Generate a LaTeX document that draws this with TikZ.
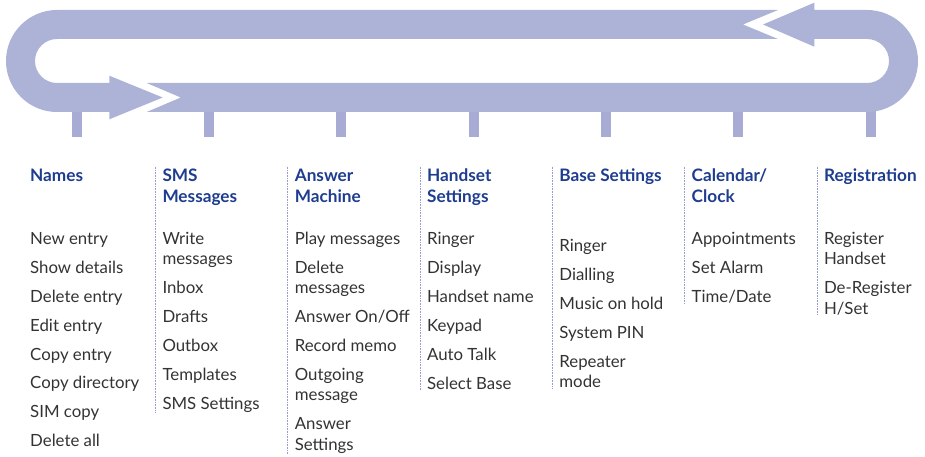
\documentclass[tikz,border=0pt]{standalone}
\usepackage{fontspec}
\setmainfont{Lato}
\usetikzlibrary{positioning}
\definecolor{band}{RGB}{172,179,215}
\definecolor{tickcol}{RGB}{168,172,212}
\definecolor{headblue}{RGB}{30,61,142}
\definecolor{itemgray}{RGB}{51,51,51}
\definecolor{sepcol}{RGB}{150,156,206}

\begin{document}
\begin{tikzpicture}[x=1pt,y=1pt,align=left]
\tikzstyle{tickbar}=[fill=tickcol,minimum width=10pt,minimum height=31.7pt,inner sep=0pt]
\tikzstyle{head}=[inner sep=0pt,anchor=north west,text=headblue,font=\fontsize{17.2}{20.7}\selectfont\bfseries]
\tikzstyle{list}=[inner sep=0pt,text=itemgray,font=\fontsize{16.8}{20.3}\selectfont]
\tikzstyle{sep}=[draw=sepcol,line width=0.6pt,densely dotted]

\useasboundingbox (0,0) rectangle (925,456);

\foreach \i in {0,...,6}
  \node[tickbar] (t\i) at (76.7+132.3*\i,335.2) {};

\fill[band] (778,446) -- (57,446) arc (90:270:51) -- (109.3,344) -- (109.3,336.7) -- (162.7,358.5)
  -- (109.3,380.3) -- (109.3,373) -- (57,373) arc (270:90:22) -- (778,417) -- (743,431.5) -- cycle;
\fill[band] (146.7,373) -- (867,373) arc (-90:90:22) -- (814.3,417) -- (814.3,409.3) -- (763,431.5)
  -- (814.3,453.3) -- (814.3,446) -- (867,446) arc (90:-90:51) -- (146.7,344) -- (180.7,358.5) -- cycle;

\node[head] (names) at (30,287.3) {Names};
\node[head] (sms) at (162.3,287.3) {SMS\\Messages};
\node[head] (answer) at (294.6,287.3) {Answer\\Machine};
\node[head] (handset) at (426.9,287.3) {Handset\\Settings};
\node[head] (base) at (559.2,287.3) {Base Settings};
\node[head] (calendar) at (691.5,287.3) {Calendar/\\Clock};
\node[head] (registration) at (823.8,287.3) {Registration};

\node[list, below=63.5pt of names.north west, anchor=north west] (namesitems)
  {New entry\\[8.6pt]Show details\\[8.6pt]Delete entry\\[8.6pt]Edit entry\\[8.6pt]Copy entry\\[8.6pt]Copy directory\\[8.6pt]SIM copy\\[8.6pt]Delete all};
\node[list, below=63.5pt of sms.north west, anchor=north west] (smsitems)
  {Write\\messages\\[8.6pt]Inbox\\[8.6pt]Drafts\\[8.6pt]Outbox\\[8.6pt]Templates\\[8.6pt]SMS Settings};
\node[list, below=63.5pt of answer.north west, anchor=north west] (answeritems)
  {Play messages\\[8.6pt]Delete\\messages\\[8.6pt]Answer On/Off\\[8.6pt]Record memo\\[8.6pt]Outgoing\\message\\[8.6pt]Answer\\Settings};
\node[list, below=63.5pt of handset.north west, anchor=north west] (handsetitems)
  {Ringer\\[8.6pt]Display\\[8.6pt]Handset name\\[8.6pt]Keypad\\[8.6pt]Auto Talk\\[8.6pt]Select Base};
\node[list, below=70.5pt of base.north west, anchor=north west] (baseitems)
  {Ringer\\[8.6pt]Dialling\\[8.6pt]Music on hold\\[8.6pt]System PIN\\[8.6pt]Repeater\\mode};
\node[list, below=63.5pt of calendar.north west, anchor=north west] (calendaritems)
  {Appointments\\[8.6pt]Set Alarm\\[8.6pt]Time/Date};
\node[list, below=63.5pt of registration.north west, anchor=north west] (registrationitems)
  {Register\\Handset\\[8.6pt]De-Register\\H/Set};

\foreach \h in {sms,answer,handset,base,calendar,registration}
  \draw[sep] ([xshift=-7pt,yshift=2pt]\h.north west) -- ([xshift=-7pt]\h.north west |- \h items.south);
\end{tikzpicture}
\end{document}
